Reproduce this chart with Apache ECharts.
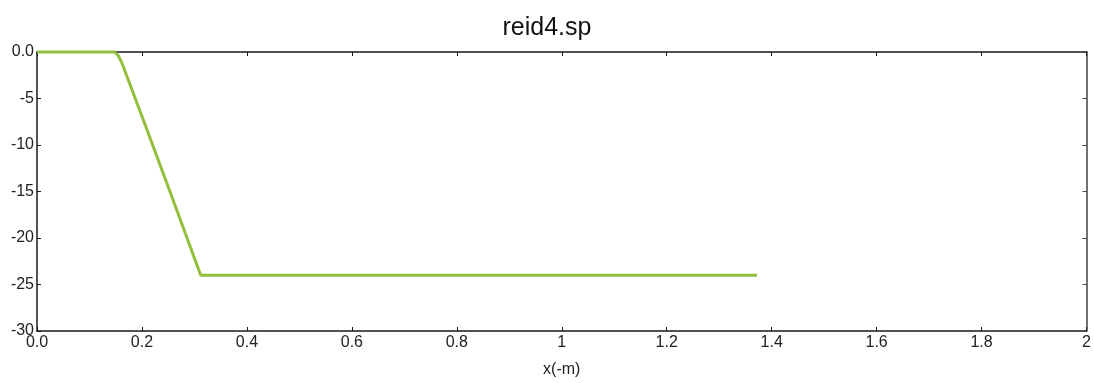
<!DOCTYPE html>
<html>
<head>
<meta charset="utf-8">
<title>reid4.sp</title>
<script src="https://cdn.jsdelivr.net/npm/echarts@6/dist/echarts.min.js"></script>
<style>
  html, body { margin: 0; padding: 0; background: #ffffff; overflow: hidden; }
  #chart { width: 1094px; height: 383px; }
</style>
</head>
<body>
<div id="chart"></div>
<script>
// Profile of reid4.sp: depth against distance x(-m)
const xValues = [0.0, 0.148, 0.155, 0.162, 0.200, 0.250, 0.312, 1.372];
const yValues = [0.0, 0.0, -0.4, -1.2, -6.9, -14.5, -24.0, -24.0];

const chartTitle = 'reid4.sp';
const xAxisName = 'x(-m)';

const xRange = { min: 0, max: 2, interval: 0.2 };
const yRange = { min: -30, max: 0, interval: 5 };

const lineData = xValues.map((x, i) => [x, yValues[i]]);

// 0 is written as "0.0", whole numbers without decimals, the rest with one decimal
function fmtX(v) {
  if (Math.abs(v) < 1e-9) return '0.0';
  if (Math.abs(v - Math.round(v)) < 1e-9) return String(Math.round(v));
  return v.toFixed(1);
}
function fmtY(v) {
  if (Math.abs(v) < 1e-9) return '0.0';
  return String(Math.round(v));
}

const axisColor = '#1a1a1a';
const fontFamily = 'Liberation Sans, Arial, sans-serif';
const labelFont = { fontFamily: fontFamily, fontSize: 16, color: '#222' };

const chart = echarts.init(document.getElementById('chart'), null, { renderer: 'canvas' });

// boxed frame: bottom/left axes carry labels, top/right axes only repeat the ticks
chart.setOption({
  backgroundColor: '#ffffff',
  animation: false,
  title: {
    text: chartTitle,
    left: 'center',
    top: 11,
    textStyle: { fontFamily: fontFamily, fontSize: 25, fontWeight: 'normal', color: '#111' }
  },
  grid: { left: 37, right: 2, top: 52, bottom: 43, containLabel: false },
  xAxis: [
    {
      type: 'value', position: 'bottom',
      min: xRange.min, max: xRange.max, interval: xRange.interval,
      name: xAxisName, nameLocation: 'middle', nameGap: 31,
      nameTextStyle: { fontFamily: fontFamily, fontSize: 16, color: '#222' },
      axisLine: { show: true, onZero: false, lineStyle: { color: axisColor, width: 1.5 } },
      axisTick: { show: true, inside: true, length: 4, lineStyle: { color: axisColor } },
      axisLabel: Object.assign({ formatter: fmtX, margin: 4, showMaxLabel: true }, labelFont),
      splitLine: { show: false }
    },
    {
      type: 'value', position: 'top',
      min: xRange.min, max: xRange.max, interval: xRange.interval,
      axisLine: { show: true, onZero: false, lineStyle: { color: axisColor, width: 1.5 } },
      axisTick: { show: true, inside: true, length: 4, lineStyle: { color: axisColor } },
      axisLabel: { show: false },
      splitLine: { show: false }
    }
  ],
  yAxis: [
    {
      type: 'value', position: 'left',
      min: yRange.min, max: yRange.max, interval: yRange.interval,
      axisLine: { show: true, onZero: false, lineStyle: { color: axisColor, width: 1.5 } },
      axisTick: { show: true, inside: true, length: 4, lineStyle: { color: axisColor } },
      axisLabel: Object.assign({ formatter: fmtY, margin: 3 }, labelFont),
      splitLine: { show: false }
    },
    {
      type: 'value', position: 'right',
      min: yRange.min, max: yRange.max, interval: yRange.interval,
      axisLine: { show: true, onZero: false, lineStyle: { color: '#444', width: 1.5 } },
      axisTick: { show: true, inside: true, length: 4, lineStyle: { color: '#444' } },
      axisLabel: { show: false },
      splitLine: { show: false }
    }
  ],
  series: [
    {
      type: 'line',
      xAxisIndex: 0,
      yAxisIndex: 0,
      data: lineData,
      showSymbol: false,
      smooth: false,
      clip: false,
      z: 5,
      lineStyle: { color: '#92bf3c', width: 3 }
    }
  ]
});
</script>
</body>
</html>
